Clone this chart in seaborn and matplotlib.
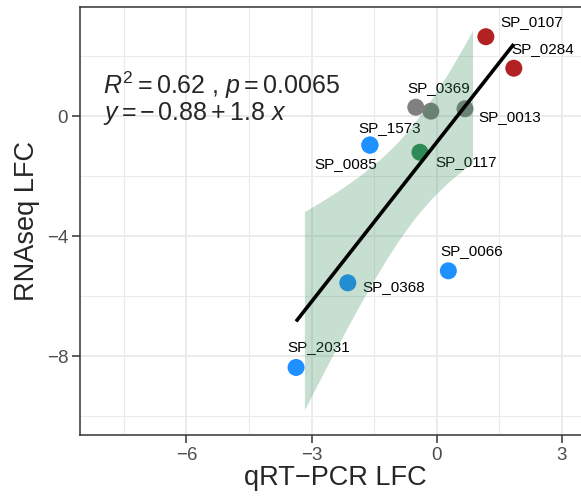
import numpy as np
import pandas as pd
import matplotlib
matplotlib.use("Agg")
import matplotlib.pyplot as plt
import seaborn as sns

# ---- data ----
genes = ["SP_0107", "SP_0284", "", "SP_0369", "SP_0013", "SP_1573", "SP_0085",
         "SP_0117", "SP_0066", "SP_0368", "SP_2031"]
qpcr = [1.18, 1.85, -0.50, -0.14, 0.68, -1.60, -1.60, -0.40, 0.28, -2.13, -3.37]
rnaseq = [2.65, 1.60, 0.30, 0.17, 0.25, -0.96, -0.96, -1.20, -5.15, -5.55, -8.37]
group = ["up", "up", "ns", "ns", "ns", "down", "down", "mid", "down", "down", "down"]
palette = {"up": "#B22222", "ns": "#808080", "down": "#1E90FF", "mid": "#2E8B57"}
fit_intercept = -0.87
fit_slope = 1.77
x_ticks = [-6, -3, 0, 3]
y_ticks = [0, -4, -8]
ribbon_range = (-3.17, 0.86)

df = pd.DataFrame({"gene": genes, "qpcr": qpcr, "rnaseq": rnaseq, "group": group})

sns.set_theme(style="white")
plt.rcParams["font.family"] = ["Liberation Sans", "DejaVu Sans"]
plt.rcParams["mathtext.fontset"] = "custom"
plt.rcParams["mathtext.rm"] = "Liberation Sans"
plt.rcParams["mathtext.it"] = "Liberation Sans:italic"

fig = plt.figure(figsize=(5.81, 4.97), dpi=100)
W, H = 581, 497
left, right, top, bottom = 80, 590, 7, 435
ax = fig.add_axes([left / W, (H - bottom) / H, (right - left) / W, (bottom - top) / H])

sns.scatterplot(data=df, x="qpcr", y="rnaseq", hue="group", palette=palette,
                s=150, linewidth=0, legend=False, ax=ax, zorder=3)

offsets = {"SP_0107": (46, 15), "SP_0284": (29, 19), "SP_0369": (8, 23),
           "SP_0013": (45, -8.6), "SP_1573": (20, 16.7), "SP_0085": (-24, -19.3),
           "SP_0117": (46, -10), "SP_0066": (23.4, 20), "SP_0368": (46, -4),
           "SP_2031": (22.7, 20)}
for g, xv, yv in zip(genes, qpcr, rnaseq):
    if not g:
        continue
    dx, dy = offsets[g]
    ax.annotate(g, (xv, yv), xytext=(dx, dy), textcoords="offset pixels",
                ha="center", va="center", fontsize=11, color="black", zorder=4)

# regression line and confidence band
xa = np.array(qpcr); ya = np.array(rnaseq)
n = len(xa)
a, b = fit_intercept, fit_slope
resid = ya - (a + b * xa)
s = np.sqrt(np.sum(resid ** 2) / (n - 2))
xbar = xa.mean(); sxx = np.sum((xa - xbar) ** 2)
tval = 2.262
xr = np.linspace(ribbon_range[0], ribbon_range[1], 100)
se = s * np.sqrt(1 / n + (xr - xbar) ** 2 / sxx)
yr = a + b * xr
ax.fill_between(xr, yr - tval * se, yr + tval * se, color="#2E8B57", alpha=0.27,
                linewidth=0, zorder=5)
xl = np.array([xa.min(), xa.max()])
ax.plot(xl, a + b * xl, color="black", lw=2.6, zorder=6, solid_capstyle="butt")

ax.text(-8.0, 0.73, r"$R^2 = 0.62$ , $p = 0.0065$", fontsize=18, va="baseline",
        ha="left", zorder=7)
ax.text(-8.0, -0.12, r"$y = -\,0.88 + 1.8\ x$", fontsize=18, va="baseline",
        ha="left", zorder=7)

# axes styling
ax.set_xlim(-8.55, (right - 436.7) / 41.7)
ax.set_ylim(-10.62, 3.64)
ax.set_xticks(x_ticks)
ax.set_yticks(y_ticks)
ax.set_xticklabels(["\u2212" + str(abs(v)) if v < 0 else str(v) for v in x_ticks])
ax.set_yticklabels(["\u2212" + str(abs(v)) if v < 0 else str(v) for v in y_ticks])
ax.set_xticks([-7.5, -4.5, -1.5, 1.5], minor=True)
ax.set_yticks([2, -2, -6, -10], minor=True)
ax.grid(True, which="major", color="#EBEBEB", lw=1.4, zorder=0)
ax.grid(True, which="minor", color="#EBEBEB", lw=0.8, zorder=0)
ax.set_axisbelow(True)
ax.tick_params(which="major", direction="out", length=5.5, width=1.1, color="#333333",
               labelsize=13.5, labelcolor="#4D4D4D", pad=3, bottom=True, left=True)
ax.tick_params(which="minor", length=0)
for sp in ax.spines.values():
    sp.set_color("#333333"); sp.set_linewidth(1.1)
ax.set_xlabel("qRT\u2212PCR LFC", fontsize=19.5, labelpad=1)
ax.set_ylabel("RNAseq LFC", fontsize=19.5, labelpad=5)

fig.savefig("out.png", dpi=100)
